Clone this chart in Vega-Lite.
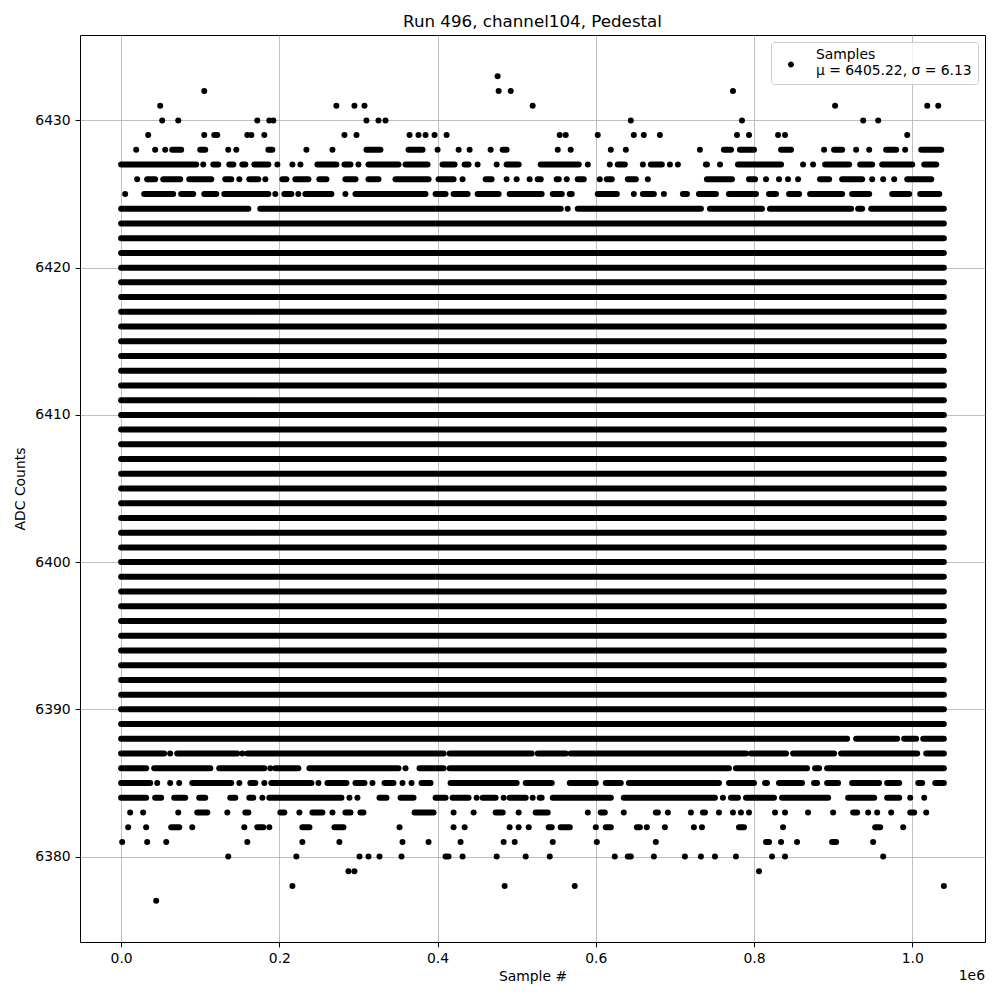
{
"$schema":"https://vega.github.io/schema/vega-lite/v6.json",
"width":905,"height":907,
"autosize":{"type":"none"},
"padding":{"left":80,"top":35,"right":15,"bottom":58},
"background":"white",
"title":{"text":"Run 496, channel104, Pedestal","font":"DejaVu Sans","fontSize":16.7,"fontWeight":"normal","color":"black","offset":4,"anchor":"middle","frame":"group"},
"config":{
 "view":{"stroke":"black","strokeWidth":1},
 "axis":{"grid":true,"gridColor":"#b0b0b0","gridWidth":0.8,"domain":false,"tickColor":"black","tickWidth":1,"tickSize":4.9,"labelFont":"DejaVu Sans","labelFontSize":13.9,"labelColor":"black","labelPadding":4.9,"labelOverlap":false,"labelFlush":false,"titleFont":"DejaVu Sans","titleFontSize":13.9,"titleFontWeight":"normal","titleColor":"black"}
},
"datasets":{
"seg":[
{"adc":6389,"s":0,"e":1040000},{"adc":6390,"s":0,"e":1040000},{"adc":6391,"s":0,"e":1040000},{"adc":6392,"s":0,"e":1040000},{"adc":6393,"s":0,"e":1040000},{"adc":6394,"s":0,"e":1040000},{"adc":6395,"s":0,"e":1040000},{"adc":6396,"s":0,"e":1040000},{"adc":6397,"s":0,"e":1040000},{"adc":6398,"s":0,"e":1040000},{"adc":6399,"s":0,"e":1040000},{"adc":6400,"s":0,"e":1040000},{"adc":6401,"s":0,"e":1040000},{"adc":6402,"s":0,"e":1040000},{"adc":6403,"s":0,"e":1040000},{"adc":6404,"s":0,"e":1040000},{"adc":6405,"s":0,"e":1040000},{"adc":6406,"s":0,"e":1040000},{"adc":6407,"s":0,"e":1040000},{"adc":6408,"s":0,"e":1040000},{"adc":6409,"s":0,"e":1040000},{"adc":6410,"s":0,"e":1040000},{"adc":6411,"s":0,"e":1040000},{"adc":6412,"s":0,"e":1040000},{"adc":6413,"s":0,"e":1040000},{"adc":6414,"s":0,"e":1040000},{"adc":6415,"s":0,"e":1040000},{"adc":6416,"s":0,"e":1040000},{"adc":6417,"s":0,"e":1040000},{"adc":6418,"s":0,"e":1040000},{"adc":6419,"s":0,"e":1040000},{"adc":6420,"s":0,"e":1040000},{"adc":6421,"s":0,"e":1040000},{"adc":6422,"s":0,"e":1040000},{"adc":6423,"s":0,"e":1040000},
{"adc":6424,"s":0,"e":160800},{"adc":6424,"s":175900,"e":555700},{"adc":6424,"s":577200,"e":732900},{"adc":6424,"s":744300,"e":810100},{"adc":6424,"s":820200,"e":922800},{"adc":6424,"s":931600,"e":936700},{"adc":6424,"s":948100,"e":1040000},
{"adc":6425,"s":29100,"e":65800},{"adc":6425,"s":75900,"e":91100},{"adc":6425,"s":105100,"e":120300},{"adc":6425,"s":130400,"e":186100},{"adc":6425,"s":206300,"e":215200},{"adc":6425,"s":232900,"e":265800},{"adc":6425,"s":296200,"e":384800},{"adc":6425,"s":397500,"e":410100},{"adc":6425,"s":420200,"e":438000},{"adc":6425,"s":450600,"e":477200},{"adc":6425,"s":491100,"e":531600},{"adc":6425,"s":545600,"e":557000},{"adc":6425,"s":567100,"e":569600},{"adc":6425,"s":602500,"e":626600},{"adc":6425,"s":659500,"e":673400},{"adc":6425,"s":710100,"e":715200},{"adc":6425,"s":730400,"e":751900},{"adc":6425,"s":768300,"e":802500},{"adc":6425,"s":819000,"e":827800},{"adc":6425,"s":844300,"e":857000},{"adc":6425,"s":870900,"e":911400},{"adc":6425,"s":924000,"e":945600},{"adc":6425,"s":974700,"e":996200},{"adc":6425,"s":1010100,"e":1034200},
{"adc":6426,"s":32900,"e":43000},{"adc":6426,"s":53200,"e":74700},{"adc":6426,"s":86100,"e":113900},{"adc":6426,"s":131600,"e":139200},{"adc":6426,"s":162000,"e":173400},{"adc":6426,"s":203800,"e":208900},{"adc":6426,"s":220200,"e":236700},{"adc":6426,"s":250600,"e":259500},{"adc":6426,"s":283500,"e":296200},{"adc":6426,"s":312700,"e":325300},{"adc":6426,"s":346800,"e":388600},{"adc":6426,"s":401300,"e":420200},{"adc":6426,"s":460800,"e":468300},{"adc":6426,"s":526600,"e":530400},{"adc":6426,"s":550600,"e":553200},{"adc":6426,"s":577200,"e":584800},{"adc":6426,"s":613900,"e":620200},{"adc":6426,"s":640500,"e":650600},{"adc":6426,"s":740500,"e":772100},{"adc":6426,"s":793700,"e":801300},{"adc":6426,"s":883500,"e":894900},{"adc":6426,"s":911400,"e":936700},{"adc":6426,"s":993700,"e":1024000},
{"adc":6427,"s":0,"e":94900},{"adc":6427,"s":116500,"e":122800},{"adc":6427,"s":136700,"e":141800},{"adc":6427,"s":153200,"e":157000},{"adc":6427,"s":168400,"e":186100},{"adc":6427,"s":248100,"e":272100},{"adc":6427,"s":282300,"e":289900},{"adc":6427,"s":312700,"e":350600},{"adc":6427,"s":359500,"e":387300},{"adc":6427,"s":406300,"e":421500},{"adc":6427,"s":434200,"e":439200},{"adc":6427,"s":487300,"e":502500},{"adc":6427,"s":530400,"e":578500},{"adc":6427,"s":627800,"e":636700},{"adc":6427,"s":669600,"e":683500},{"adc":6427,"s":739200,"e":740500},{"adc":6427,"s":779700,"e":834200},{"adc":6427,"s":889900,"e":920200},{"adc":6427,"s":934200,"e":949400},{"adc":6427,"s":962000,"e":1000000},{"adc":6427,"s":1015200,"e":1030400},
{"adc":6428,"s":64600,"e":75900},{"adc":6428,"s":100000,"e":106300},{"adc":6428,"s":186100,"e":191100},{"adc":6428,"s":310100,"e":327800},{"adc":6428,"s":363300,"e":381000},{"adc":6428,"s":482300,"e":487300},{"adc":6428,"s":762000,"e":770900},{"adc":6428,"s":782300,"e":800000},{"adc":6428,"s":834200,"e":846800},{"adc":6428,"s":901200,"e":911400},{"adc":6428,"s":967000,"e":979700},{"adc":6428,"s":1011400,"e":1036700},
{"adc":6388,"s":0,"e":917700},{"adc":6388,"s":929100,"e":981000},{"adc":6388,"s":989800,"e":1005000},{"adc":6388,"s":1013900,"e":1040000},
{"adc":6387,"s":0,"e":54400},{"adc":6387,"s":70900,"e":146800},{"adc":6387,"s":159500,"e":407600},{"adc":6387,"s":415200,"e":519000},{"adc":6387,"s":526600,"e":562000},{"adc":6387,"s":568300,"e":789900},{"adc":6387,"s":796200,"e":840500},{"adc":6387,"s":849400,"e":901200},{"adc":6387,"s":910100,"e":1006300},{"adc":6387,"s":1017700,"e":1040000},
{"adc":6386,"s":0,"e":31600},{"adc":6386,"s":41800,"e":112700},{"adc":6386,"s":124000,"e":181000},{"adc":6386,"s":194900,"e":224000},{"adc":6386,"s":238000,"e":350600},{"adc":6386,"s":377200,"e":407600},{"adc":6386,"s":415200,"e":768300},{"adc":6386,"s":777200,"e":867100},{"adc":6386,"s":877200,"e":882300},{"adc":6386,"s":892400,"e":1040000},
{"adc":6385,"s":0,"e":36700},{"adc":6385,"s":89900,"e":139200},{"adc":6385,"s":163300,"e":169600},{"adc":6385,"s":189900,"e":240500},{"adc":6385,"s":260800,"e":284800},{"adc":6385,"s":296200,"e":307600},{"adc":6385,"s":332900,"e":344300},{"adc":6385,"s":379700,"e":391100},{"adc":6385,"s":416400,"e":500000},{"adc":6385,"s":511400,"e":544300},{"adc":6385,"s":567100,"e":600000},{"adc":6385,"s":612600,"e":631600},{"adc":6385,"s":641800,"e":755700},{"adc":6385,"s":768300,"e":800000},{"adc":6385,"s":813900,"e":816400},{"adc":6385,"s":831600,"e":860700},{"adc":6385,"s":875900,"e":879700},{"adc":6385,"s":892400,"e":906300},{"adc":6385,"s":924000,"e":958200},{"adc":6385,"s":968300,"e":983500},{"adc":6385,"s":1007600,"e":1012600},{"adc":6385,"s":1029100,"e":1040000},
{"adc":6384,"s":0,"e":31600},{"adc":6384,"s":43000,"e":50600},{"adc":6384,"s":67100,"e":81000},{"adc":6384,"s":98700,"e":106300},{"adc":6384,"s":138000,"e":144300},{"adc":6384,"s":162000,"e":167100},{"adc":6384,"s":187300,"e":278500},{"adc":6384,"s":326600,"e":335400},{"adc":6384,"s":353200,"e":369600},{"adc":6384,"s":397500,"e":410100},{"adc":6384,"s":419000,"e":439200},{"adc":6384,"s":457000,"e":473400},{"adc":6384,"s":491100,"e":511400},{"adc":6384,"s":529100,"e":531600},{"adc":6384,"s":545600,"e":619000},{"adc":6384,"s":635400,"e":750600},{"adc":6384,"s":770900,"e":779700},{"adc":6384,"s":789900,"e":825300},{"adc":6384,"s":835400,"e":893700},{"adc":6384,"s":919000,"e":951900},{"adc":6384,"s":968300,"e":983500},
{"adc":6383,"s":96200,"e":108900},{"adc":6383,"s":157000,"e":160800},{"adc":6383,"s":201300,"e":206300},{"adc":6383,"s":241800,"e":254400},{"adc":6383,"s":283500,"e":289900},{"adc":6383,"s":302500,"e":306300},{"adc":6383,"s":370900,"e":394900},{"adc":6383,"s":473400,"e":482300},{"adc":6383,"s":524000,"e":539200},{"adc":6383,"s":606300,"e":611400},{"adc":6383,"s":675900,"e":678500},{"adc":6383,"s":735400,"e":738000},{"adc":6383,"s":925300,"e":930400},{"adc":6383,"s":997500,"e":1002500},
{"adc":6382,"s":63300,"e":73400},{"adc":6382,"s":172100,"e":179700},{"adc":6382,"s":229100,"e":238000},{"adc":6382,"s":269600,"e":281000},{"adc":6382,"s":540500,"e":544300},{"adc":6382,"s":555700,"e":567100},{"adc":6382,"s":612600,"e":619000},{"adc":6382,"s":651900,"e":655700},{"adc":6382,"s":781000,"e":787300},{"adc":6382,"s":953200,"e":959500},
{"adc":6381,"s":815200,"e":819000},{"adc":6381,"s":898700,"e":903800},
{"adc":6380,"s":410100,"e":413900},{"adc":6380,"s":640500,"e":644300}
],
"pts":[
{"adc":6424,"sample":564500},
{"adc":6425,"sample":5100},{"adc":6425,"sample":194900},{"adc":6425,"sample":224000},{"adc":6425,"sample":283500},{"adc":6425,"sample":648100},{"adc":6425,"sample":686100},
{"adc":6426,"sample":20300},{"adc":6426,"sample":149400},{"adc":6426,"sample":182300},{"adc":6426,"sample":431600},{"adc":6426,"sample":487300},{"adc":6426,"sample":500000},{"adc":6426,"sample":516400},{"adc":6426,"sample":563300},{"adc":6426,"sample":605000},{"adc":6426,"sample":665800},{"adc":6426,"sample":815200},{"adc":6426,"sample":831600},{"adc":6426,"sample":843000},{"adc":6426,"sample":855700},{"adc":6426,"sample":949400},{"adc":6426,"sample":963300},{"adc":6426,"sample":977200},
{"adc":6427,"sample":103800},{"adc":6427,"sample":197500},{"adc":6427,"sample":216500},{"adc":6427,"sample":226600},{"adc":6427,"sample":300000},{"adc":6427,"sample":450600},{"adc":6427,"sample":474700},{"adc":6427,"sample":589900},{"adc":6427,"sample":617700},{"adc":6427,"sample":659500},{"adc":6427,"sample":693700},{"adc":6427,"sample":703800},{"adc":6427,"sample":757000},{"adc":6427,"sample":862000},{"adc":6427,"sample":874700},
{"adc":6428,"sample":19000},{"adc":6428,"sample":43000},{"adc":6428,"sample":55700},{"adc":6428,"sample":135400},{"adc":6428,"sample":145600},{"adc":6428,"sample":234200},{"adc":6428,"sample":267100},{"adc":6428,"sample":400000},{"adc":6428,"sample":426600},{"adc":6428,"sample":440500},{"adc":6428,"sample":467100},{"adc":6428,"sample":551900},{"adc":6428,"sample":568300},{"adc":6428,"sample":619000},{"adc":6428,"sample":638000},{"adc":6428,"sample":731600},{"adc":6428,"sample":888600},{"adc":6428,"sample":929100},{"adc":6428,"sample":945600},{"adc":6428,"sample":991100},
{"adc":6429,"sample":34200},{"adc":6429,"sample":105100},{"adc":6429,"sample":117700},{"adc":6429,"sample":121500},{"adc":6429,"sample":159500},{"adc":6429,"sample":164600},{"adc":6429,"sample":181000},{"adc":6429,"sample":282300},{"adc":6429,"sample":297500},{"adc":6429,"sample":364600},{"adc":6429,"sample":375900},{"adc":6429,"sample":384800},{"adc":6429,"sample":396200},{"adc":6429,"sample":411400},{"adc":6429,"sample":554400},{"adc":6429,"sample":562000},{"adc":6429,"sample":602500},{"adc":6429,"sample":648100},{"adc":6429,"sample":660700},{"adc":6429,"sample":681000},{"adc":6429,"sample":778500},{"adc":6429,"sample":793700},{"adc":6429,"sample":830400},{"adc":6429,"sample":839200},{"adc":6429,"sample":993700},
{"adc":6430,"sample":51900},{"adc":6430,"sample":72200},{"adc":6430,"sample":172100},{"adc":6430,"sample":187300},{"adc":6430,"sample":192400},{"adc":6430,"sample":310100},{"adc":6430,"sample":325300},{"adc":6430,"sample":334200},{"adc":6430,"sample":644300},{"adc":6430,"sample":784800},{"adc":6430,"sample":938000},{"adc":6430,"sample":957000},
{"adc":6431,"sample":49400},{"adc":6431,"sample":272100},{"adc":6431,"sample":294900},{"adc":6431,"sample":307600},{"adc":6431,"sample":520200},{"adc":6431,"sample":902500},{"adc":6431,"sample":1019000},{"adc":6431,"sample":1032900},
{"adc":6432,"sample":105100},{"adc":6432,"sample":477200},{"adc":6432,"sample":492400},{"adc":6432,"sample":773400},
{"adc":6433,"sample":475900},
{"adc":6387,"sample":62000},{"adc":6387,"sample":153200},
{"adc":6386,"sample":188600},{"adc":6386,"sample":359500},
{"adc":6385,"sample":45600},{"adc":6385,"sample":62000},{"adc":6385,"sample":73400},{"adc":6385,"sample":149400},{"adc":6385,"sample":181000},{"adc":6385,"sample":249400},{"adc":6385,"sample":317700},{"adc":6385,"sample":355700},{"adc":6385,"sample":367100},
{"adc":6384,"sample":178500},{"adc":6384,"sample":288600},{"adc":6384,"sample":298700},{"adc":6384,"sample":449400},{"adc":6384,"sample":483500},{"adc":6384,"sample":520200},{"adc":6384,"sample":760700},{"adc":6384,"sample":997500},{"adc":6384,"sample":1015200},
{"adc":6383,"sample":11400},{"adc":6383,"sample":27800},{"adc":6383,"sample":72200},{"adc":6383,"sample":134200},{"adc":6383,"sample":225300},{"adc":6383,"sample":267100},{"adc":6383,"sample":420200},{"adc":6383,"sample":445600},{"adc":6383,"sample":502500},{"adc":6383,"sample":589900},{"adc":6383,"sample":635400},{"adc":6383,"sample":691100},{"adc":6383,"sample":720200},{"adc":6383,"sample":755700},{"adc":6383,"sample":773400},{"adc":6383,"sample":783500},{"adc":6383,"sample":793700},{"adc":6383,"sample":826600},{"adc":6383,"sample":839200},{"adc":6383,"sample":868300},{"adc":6383,"sample":900000},{"adc":6383,"sample":944300},{"adc":6383,"sample":955700},{"adc":6383,"sample":973400},{"adc":6383,"sample":1017700},
{"adc":6382,"sample":8900},{"adc":6382,"sample":31600},{"adc":6382,"sample":89900},{"adc":6382,"sample":155700},{"adc":6382,"sample":187300},{"adc":6382,"sample":351900},{"adc":6382,"sample":420200},{"adc":6382,"sample":434200},{"adc":6382,"sample":491100},{"adc":6382,"sample":502500},{"adc":6382,"sample":515200},{"adc":6382,"sample":600000},{"adc":6382,"sample":664500},{"adc":6382,"sample":687300},{"adc":6382,"sample":724000},{"adc":6382,"sample":734200},{"adc":6382,"sample":836700},{"adc":6382,"sample":988600},
{"adc":6381,"sample":1300},{"adc":6381,"sample":32900},{"adc":6381,"sample":57000},{"adc":6381,"sample":159500},{"adc":6381,"sample":229100},{"adc":6381,"sample":275900},{"adc":6381,"sample":355700},{"adc":6381,"sample":388600},{"adc":6381,"sample":429100},{"adc":6381,"sample":483500},{"adc":6381,"sample":497500},{"adc":6381,"sample":545600},{"adc":6381,"sample":601300},{"adc":6381,"sample":675900},{"adc":6381,"sample":834200},{"adc":6381,"sample":854400},{"adc":6381,"sample":950600},
{"adc":6380,"sample":135400},{"adc":6380,"sample":221500},{"adc":6380,"sample":301300},{"adc":6380,"sample":312700},{"adc":6380,"sample":326600},{"adc":6380,"sample":354400},{"adc":6380,"sample":431600},{"adc":6380,"sample":474700},{"adc":6380,"sample":511400},{"adc":6380,"sample":541800},{"adc":6380,"sample":624000},{"adc":6380,"sample":673400},{"adc":6380,"sample":712600},{"adc":6380,"sample":732900},{"adc":6380,"sample":750600},{"adc":6380,"sample":777200},{"adc":6380,"sample":822800},{"adc":6380,"sample":839200},{"adc":6380,"sample":963300},
{"adc":6379,"sample":287300},{"adc":6379,"sample":294900},{"adc":6379,"sample":806300},
{"adc":6378,"sample":216500},{"adc":6378,"sample":484800},{"adc":6378,"sample":573400},{"adc":6378,"sample":1040000},
{"adc":6377,"sample":44300}
],
"one":[{}]
},
"layer":[
{"data":{"name":"seg"},
 "mark":{"type":"rule","strokeWidth":6,"strokeCap":"round","color":"black"},
 "encoding":{
  "x":{"field":"s","type":"quantitative","title":"Sample #","scale":{"domain":[-52000,1092000],"nice":false,"zero":false},"axis":{"values":[0,200000,400000,600000,800000,1000000],"labelExpr":"format(datum.value/1000000,'.1f')","titlePadding":4}},
  "x2":{"field":"e"},
  "y":{"field":"adc","type":"quantitative","title":"ADC Counts","scale":{"domain":[6374.2,6435.8],"nice":false,"zero":false},"axis":{"values":[6380,6390,6400,6410,6420,6430],"format":"d","titlePadding":7}}
 }},
{"data":{"name":"pts"},
 "mark":{"type":"point","filled":true,"size":36,"opacity":1,"strokeWidth":0},
 "encoding":{
  "x":{"field":"sample","type":"quantitative","title":"Sample #"},
  "y":{"field":"adc","type":"quantitative","title":"ADC Counts"},
  "color":{"datum":"Samples","type":"nominal","scale":{"range":["black"]},
   "legend":{"orient":"top-right","offset":7,"title":null,"labelExpr":"['Samples','μ = 6405.22, σ = 6.13']","labelFont":"DejaVu Sans","labelFontSize":13.9,"labelColor":"black","labelLimit":400,"symbolType":"M -1 3.2 A 1 1 0 1 1 1 3.2 A 1 1 0 1 1 -1 3.2 Z","symbolSize":36,"symbolFillColor":"black","symbolStrokeWidth":0,"strokeColor":"#cccccc","fillColor":"rgba(255,255,255,0.8)","padding":6,"cornerRadius":3,"symbolOffset":7,"labelOffset":18}}
 }},
{"data":{"name":"one"},
 "mark":{"type":"text","text":"1e6","align":"right","baseline":"top","dy":27,"font":"DejaVu Sans","fontSize":13.9,"color":"black"},
 "encoding":{"x":{"datum":1092000,"type":"quantitative"},"y":{"datum":6374.2,"type":"quantitative"}}}
]
}
